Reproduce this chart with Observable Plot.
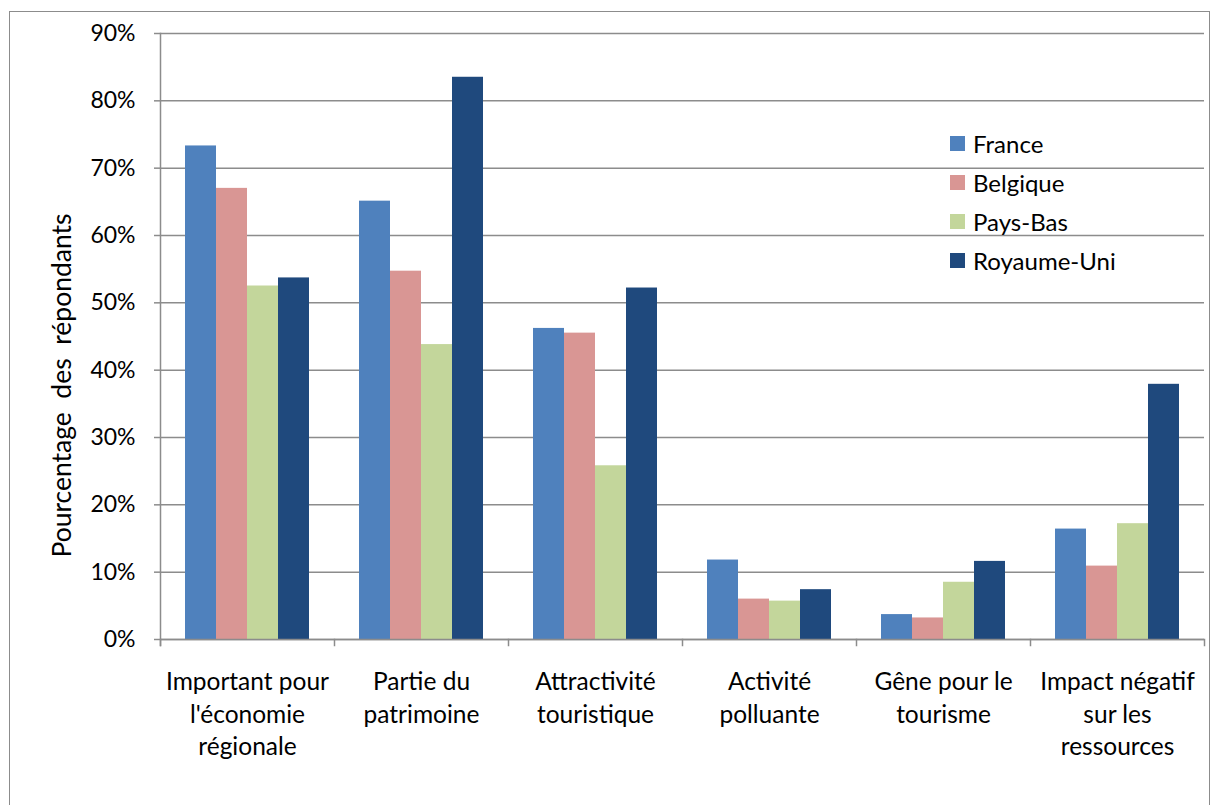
<!DOCTYPE html>
<html><head><meta charset="utf-8">
<script src="https://cdn.jsdelivr.net/npm/d3@7"></script>
<script src="https://cdn.jsdelivr.net/npm/@observablehq/plot@0.6"></script>
<style>
body{margin:0;background:#fff;font-family:Lato, sans-serif;}
#wrap{position:relative;width:1215px;height:805px;overflow:hidden;background:#fff;}
#border{position:absolute;left:9px;top:11px;width:1201px;height:820px;border:1.5px solid #8c8c8c;box-sizing:border-box;}
#chart{position:absolute;left:0;top:0;}
#legend{position:absolute;left:950px;top:124px;}
.item{display:flex;align-items:center;height:39px;font-size:24px;color:#000;font-family:Lato, sans-serif;}
.sw{width:15px;height:15px;margin-right:8px;}
svg text{white-space:pre;}
</style></head>
<body><div id="wrap"><div id="border"></div><div id="chart"></div><div id="legend"></div></div>
<script>
const categories = ["Important pour l'économie régionale","Partie du patrimoine","Attractivité touristique","Activité polluante","Gêne pour le tourisme","Impact négatif sur les ressources"];
const categoryLabels = ["Important pour\nl'économie\nrégionale","Partie du\npatrimoine","Attractivité\ntouristique","Activité\npolluante","Gêne pour le\ntourisme","Impact négatif\nsur les\nressources"];
const series = ["France","Belgique","Pays-Bas","Royaume-Uni"];
const colors = ["#4F81BD","#D99694","#C3D69B","#1F497D"];
const france     = [0.733,0.651,0.462,0.118,0.037,0.164];
const belgique   = [0.670,0.547,0.455,0.060,0.032,0.109];
const paysBas    = [0.525,0.438,0.258,0.057,0.085,0.172];
const royaumeUni = [0.537,0.835,0.522,0.074,0.116,0.379];
const yTicks = [0,0.1,0.2,0.3,0.4,0.5,0.6,0.7,0.8,0.9];
const yTitle = "Pourcentage  des  répondants";

const valuesBySeries = [france, belgique, paysBas, royaumeUni];
const rows = [];
categories.forEach((c, i) => series.forEach((s, j) => rows.push({category: c, series: s, value: valuesBySeries[j][i]})));

const W = 1215, H = 805, mT = 33, mB = 166, mL = 160, mR = 11;
const innerH = H - mT - mB;
const grey = "#8c8c8c";
const font = "Lato, sans-serif";

const chart = Plot.plot({
  width: W, height: H,
  marginTop: mT, marginBottom: mB, marginLeft: mL, marginRight: mR,
  style: {fontFamily: font, fontSize: "23px", color: "#000", background: "transparent"},
  fx: {domain: categories, padding: 0, label: null},
  x: {domain: series, paddingInner: 0, paddingOuter: 0.76, axis: null},
  y: {domain: [0, 0.9], label: null},
  color: {domain: series, range: colors},
  marks: [
    Plot.gridY(yTicks, {stroke: grey, strokeOpacity: 1, strokeWidth: 1.5}),
    Plot.barY(rows, {fx: "category", x: "series", y: "value", fill: "series"}),
    Plot.ruleY([0], {stroke: grey, strokeWidth: 1.5}),
    Plot.axisY({ticks: yTicks, tickFormat: d3.format(".0%"), tickSize: 6, tickPadding: 19, stroke: grey, strokeWidth: 1.5, label: null, fontSize: 23, fill: "#000"}),
    Plot.frame({anchor: "left", facetAnchor: "left", stroke: grey, strokeWidth: 1.5, insetBottom: -6}),
    Plot.frame({anchor: "left", stroke: grey, strokeWidth: 1.5, insetTop: innerH, insetBottom: -6}),
    Plot.frame({anchor: "right", facetAnchor: "right", stroke: grey, strokeWidth: 1.5, insetTop: innerH, insetBottom: -6}),
    Plot.axisFx({anchor: "bottom", tickSize: 0, tickPadding: 28, tickFormat: d => categoryLabels[categories.indexOf(d)], lineHeight: 1.32, label: null, fontSize: 24.5, fill: "#000"}),
    Plot.text([yTitle], {frameAnchor: "left", facetAnchor: "left", textAnchor: "middle", rotate: -90, dx: -98, dy: 49, fontSize: 26.5, fill: "#000"})
  ]
});
document.getElementById("chart").appendChild(chart);

const legend = document.getElementById("legend");
series.forEach((s, i) => {
  const item = document.createElement("div");
  item.className = "item";
  const sw = document.createElement("span");
  sw.className = "sw";
  sw.style.background = colors[i];
  const t = document.createElement("span");
  t.textContent = s;
  item.appendChild(sw); item.appendChild(t);
  legend.appendChild(item);
});
</script>
</body></html>
